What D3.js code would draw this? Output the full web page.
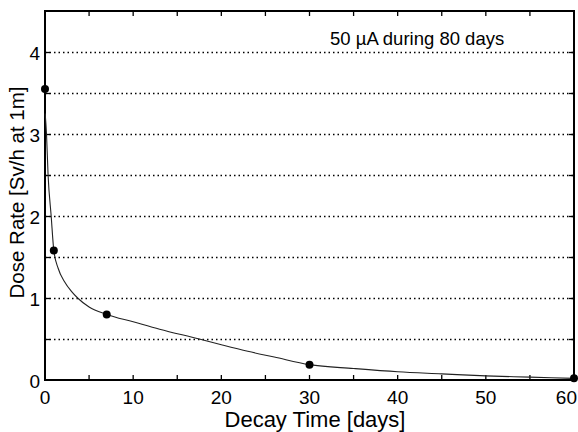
<!DOCTYPE html>
<html>
<head>
<meta charset="utf-8">
<script src="https://cdn.jsdelivr.net/npm/d3@7"></script>
<style>
  html, body { margin: 0; padding: 0; background: #fff; }
  svg { display: block; font-family: "Liberation Sans", Arial, Helvetica, sans-serif; }
</style>
</head>
<body>
<svg id="chart" width="578" height="432"></svg>
<script>
// Decay curve of the dose rate (time in days, dose rate in Sv/h at 1 m)
const curveDays = [0.02, 0.17, 0.35, 0.7, 1.0, 1.5, 2.2, 3.0, 3.7, 5.0, 7.0, 10.0, 13.0, 17.5, 20.0, 23.0, 26.0, 30.0, 35.0, 40.0, 45.0, 50.0, 55.0, 60.0];
const curveRate = [3.25, 3.0, 2.5, 2.0, 1.58, 1.36, 1.2, 1.08, 1.0, 0.89, 0.80, 0.71, 0.62, 0.5, 0.43, 0.35, 0.28, 0.187, 0.14, 0.10, 0.075, 0.05, 0.035, 0.02];

// Measured points
const pointDays = [0, 1, 7, 30, 60];
const pointRate = [3.55, 1.58, 0.80, 0.187, 0.02];

const xTickLabels = [0, 10, 20, 30, 40, 50, 60];
const yTickLabels = [0, 1, 2, 3, 4];
const gridValues = [0.5, 1, 1.5, 2, 2.5, 3, 3.5, 4];
const minorXTicks = [5, 10, 15, 20, 25, 30, 35, 40, 45, 50, 55];

const xTitle = "Decay Time [days]";
const yTitle = "Dose Rate [Sv/h at 1m]";
const note = "50 \u00B5A during 80 days";

const svg = d3.select("#chart");
const mLeft = 45, mRight = 574, mTop = 11, mBottom = 380;

const x = d3.scaleLinear().domain([0, 60]).range([mLeft, mRight]);
const y = d3.scaleLinear().domain([0, 4.5]).range([mBottom, mTop]);

// Dotted horizontal grid
svg.append("g").selectAll("line").data(gridValues).join("line")
  .attr("x1", mLeft).attr("x2", mRight)
  .attr("y1", d => Math.round(y(d)) + 0.5).attr("y2", d => Math.round(y(d)) + 0.5)
  .attr("stroke", "#000").attr("stroke-width", 1.3)
  .attr("stroke-dasharray", "1.5,3");

// Inward ticks on all four sides
const tickLen = 5;
const tg = svg.append("g").attr("stroke", "#000").attr("stroke-width", 1.3);
tg.append("g").selectAll("line").data(minorXTicks).join("line")
  .attr("x1", d => x(d)).attr("x2", d => x(d))
  .attr("y1", mBottom).attr("y2", mBottom - tickLen);
tg.append("g").selectAll("line").data(minorXTicks).join("line")
  .attr("x1", d => x(d)).attr("x2", d => x(d))
  .attr("y1", mTop).attr("y2", mTop + tickLen);
tg.append("g").selectAll("line").data(gridValues).join("line")
  .attr("x1", mLeft).attr("x2", mLeft + tickLen)
  .attr("y1", d => Math.round(y(d)) + 0.5).attr("y2", d => Math.round(y(d)) + 0.5);
tg.append("g").selectAll("line").data(gridValues).join("line")
  .attr("x1", mRight).attr("x2", mRight - tickLen)
  .attr("y1", d => Math.round(y(d)) + 0.5).attr("y2", d => Math.round(y(d)) + 0.5);

// Plot frame
svg.append("rect")
  .attr("x", mLeft).attr("y", mTop)
  .attr("width", mRight - mLeft).attr("height", mBottom - mTop)
  .attr("fill", "none").attr("stroke", "#000").attr("stroke-width", 2);

// Decay curve
const curveData = curveDays.map((d, i) => [d, curveRate[i]]);
const line = d3.line().x(d => x(d[0])).y(d => y(d[1])).curve(d3.curveMonotoneX);
svg.append("path").datum(curveData)
  .attr("d", line)
  .attr("fill", "none").attr("stroke", "#222").attr("stroke-width", 1.1);

// Measured points
svg.append("g").selectAll("circle").data(pointDays.map((d, i) => [d, pointRate[i]])).join("circle")
  .attr("cx", d => x(d[0])).attr("cy", d => y(d[1])).attr("r", 4)
  .attr("fill", "#000");

// Tick labels (the last one is kept inside the page edge)
svg.append("g").selectAll("text").data(xTickLabels).join("text")
  .attr("x", (d, i) => i === xTickLabels.length - 1 ? 577 : x(d)).attr("y", 404)
  .attr("text-anchor", (d, i) => i === xTickLabels.length - 1 ? "end" : "middle")
  .attr("font-size", 19)
  .text(d => d);
svg.append("g").selectAll("text").data(yTickLabels).join("text")
  .attr("x", 40).attr("y", d => y(d) + 8)
  .attr("text-anchor", "end").attr("font-size", 19)
  .text(d => d);

// Axis titles
svg.append("text")
  .attr("x", 315).attr("y", 427)
  .attr("text-anchor", "middle").attr("font-size", 22)
  .text(xTitle);
svg.append("text")
  .attr("transform", "translate(24, 192.5) rotate(-90)")
  .attr("text-anchor", "middle").attr("font-size", 20.5)
  .text(yTitle);

// Annotation
svg.append("text")
  .attr("x", 330).attr("y", 45)
  .attr("font-size", 18.5)
  .text(note);
</script>
</body>
</html>
